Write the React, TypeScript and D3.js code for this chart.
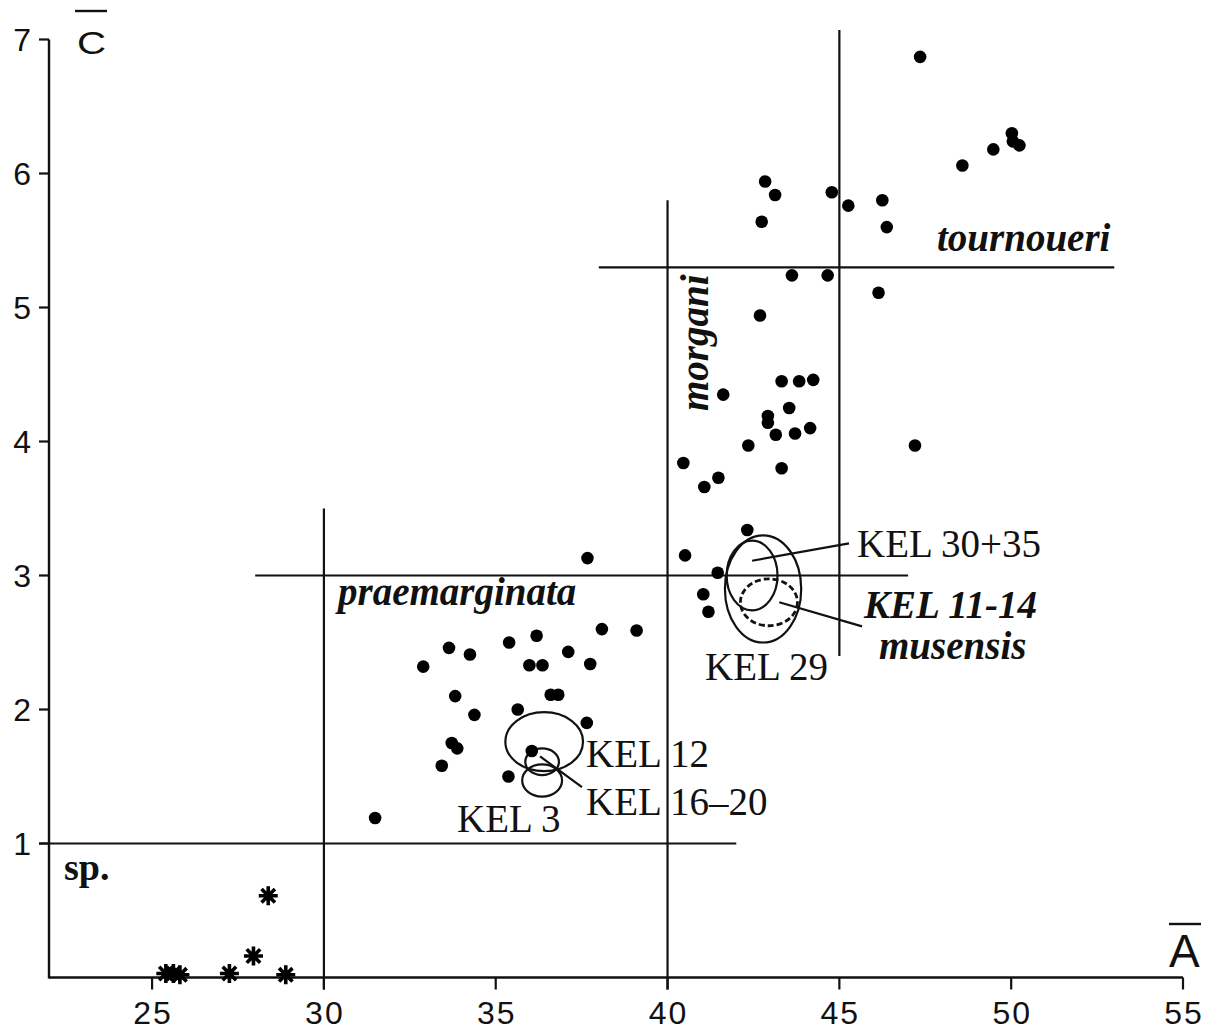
import React from "react";
import * as d3 from "d3";

const W = 1211;
const H = 1031;

const xTicks = [25, 30, 35, 40, 45, 50, 55];
const yTicks = [1, 2, 3, 4, 5, 6, 7];

// filled dots: A (x) and C (y)
const dotA = [
  47.35, 50.02, 50.05, 50.24, 49.48, 48.58, 42.84, 43.13, 44.78, 45.26, 46.25, 42.74, 46.38,
  43.62, 44.66, 46.14, 42.69, 41.62, 43.32, 43.83, 44.24, 43.54, 42.92, 42.92, 43.15, 43.71,
  44.15, 42.35, 40.46, 43.32, 41.48, 41.07, 47.2, 42.32, 40.51, 41.46, 41.04, 41.19, 37.67,
  38.09, 39.1, 36.19, 35.39, 33.64, 34.25, 37.11, 32.89, 35.98, 36.36, 37.75, 33.82, 36.6,
  36.82, 34.38, 35.64, 37.65, 33.72, 33.88, 36.05, 33.43, 35.37, 31.49,
];
const dotC = [
  6.87, 6.3, 6.24, 6.21, 6.18, 6.06, 5.94, 5.84, 5.86, 5.76, 5.8, 5.64, 5.6,
  5.24, 5.24, 5.11, 4.94, 4.35, 4.45, 4.45, 4.46, 4.25, 4.19, 4.14, 4.05, 4.06,
  4.1, 3.97, 3.84, 3.8, 3.73, 3.66, 3.97, 3.34, 3.15, 3.02, 2.86, 2.73, 3.13,
  2.6, 2.59, 2.55, 2.5, 2.46, 2.41, 2.43, 2.32, 2.33, 2.33, 2.34, 2.1, 2.11,
  2.11, 1.96, 2.0, 1.9, 1.75, 1.71, 1.69, 1.58, 1.5, 1.19,
];

// asterisks (sp.)
const starA = [25.4, 25.62, 25.81, 27.25, 27.95, 28.38, 28.89];
const starC = [0.03, 0.03, 0.02, 0.03, 0.16, 0.61, 0.02];

// boundary lines between taxa (data units)
const boundaryX1 = [22, 30, 28, 40, 38, 45];
const boundaryY1 = [1, 3.5, 3, 5.8, 5.3, 7.07];
const boundaryX2 = [42, 30, 47, 40, 53, 45];
const boundaryY2 = [1, 0, 3, 0, 5.3, 2.4];

// ellipses for samples
const ellName = ["KEL 29", "KEL 30+35", "KEL 11-14", "KEL 12", "KEL 16–20", "KEL 3"];
const ellCx = [42.78, 42.46, 42.95, 36.41, 36.35, 36.35];
const ellCy = [2.9, 3.0, 2.8, 1.76, 1.61, 1.47];
const ellRx = [1.11, 0.74, 0.83, 1.13, 0.49, 0.58];
const ellRy = [0.4, 0.26, 0.175, 0.22, 0.1, 0.12];
const ellDashed = [false, false, true, false, false, false];

// leader lines
const leadX1 = [42.46, 43.25, 36.29];
const leadY1 = [3.11, 2.8, 1.65];
const leadX2 = [45.28, 45.66, 37.51];
const leadY2 = [3.24, 2.62, 1.42];

export default function App() {
  const x = d3.scaleLinear().domain([22, 55]).range([49, 1183]);
  const y = d3.scaleLinear().domain([0, 7]).range([977.5, 39.5]);

  const sans = "'Liberation Sans', Arial, sans-serif";
  const serif = "'Liberation Serif', 'Times New Roman', serif";
  const stroke = "#111";

  const starPath = (cx: number, cy: number) => {
    const r = 9.5;
    const p = d3.path();
    for (let k = 0; k < 4; k++) {
      const a = (k * Math.PI) / 4;
      p.moveTo(cx - r * Math.cos(a), cy - r * Math.sin(a));
      p.lineTo(cx + r * Math.cos(a), cy + r * Math.sin(a));
    }
    return p.toString();
  };

  return (
    <svg
      width={W}
      height={H}
      style={{ position: "absolute", left: 0, top: 0, background: "#fff" }}
    >
      <rect x={0} y={0} width={W} height={H} fill="#fff" />
      {/* axes */}
      <line x1={x(22)} y1={y(7)} x2={x(22)} y2={y(0) + 1} stroke={stroke} strokeWidth={2.4} />
      <line x1={x(22)} y1={y(0)} x2={x(55)} y2={y(0)} stroke={stroke} strokeWidth={2.4} />
      {yTicks.map((t) => (
        <g key={"yt" + t}>
          <line x1={x(22) - 10} x2={x(22)} y1={y(t)} y2={y(t)} stroke={stroke} strokeWidth={2.2} />
          <text
            x={x(22) - 18}
            y={y(t) + 11}
            textAnchor="end"
            fontFamily={sans}
            fontSize={32}
            fill="#111"
          >
            {t}
          </text>
        </g>
      ))}
      {xTicks.map((t) => (
        <g key={"xt" + t}>
          <line x1={x(t)} x2={x(t)} y1={y(0)} y2={y(0) + 12} stroke={stroke} strokeWidth={2.2} />
          <text
            x={x(t) + 1}
            y={1024}
            textAnchor="middle"
            fontFamily={sans}
            fontSize={32}
            fill="#111"
            letterSpacing={2}
          >
            {t}
          </text>
        </g>
      ))}
      {/* axis titles with overbars */}
      <text
        transform="translate(77,54) scale(1.3,1)"
        fontFamily={sans}
        fontSize={31}
        fill="#111"
      >
        C
      </text>
      <line x1={75} x2={107} y1={11} y2={11} stroke={stroke} strokeWidth={2.4} />
      <text x={1169} y={967} fontFamily={sans} fontSize={46} fill="#111">
        A
      </text>
      <line x1={1169} x2={1201} y1={924} y2={924} stroke={stroke} strokeWidth={2.4} />

      {/* boundary lines */}
      {boundaryX1.map((v, i) => (
        <line
          key={"b" + i}
          x1={x(v) - (boundaryY1[i] === boundaryY2[i] && v === 22 ? 10 : 0)}
          y1={y(boundaryY1[i])}
          x2={x(boundaryX2[i])}
          y2={y(boundaryY2[i]) + (boundaryY2[i] === 0 ? 12 : 0)}
          stroke={stroke}
          strokeWidth={2.2}
        />
      ))}

      {/* ellipses */}
      {ellCx.map((cx, i) => (
        <ellipse
          key={"e" + i}
          cx={x(cx)}
          cy={y(ellCy[i])}
          rx={x(cx + ellRx[i]) - x(cx)}
          ry={y(0) - y(ellRy[i])}
          fill="none"
          stroke={stroke}
          strokeWidth={ellDashed[i] ? 2.8 : 2.2}
          strokeDasharray={ellDashed[i] ? "6 3" : undefined}
        />
      ))}
      {leadX1.map((v, i) => (
        <line
          key={"l" + i}
          x1={x(v)}
          y1={y(leadY1[i])}
          x2={x(leadX2[i])}
          y2={y(leadY2[i])}
          stroke={stroke}
          strokeWidth={2.2}
        />
      ))}

      {/* dots */}
      {dotA.map((a, i) => (
        <circle key={"d" + i} cx={x(a)} cy={y(dotC[i])} r={6.3} fill="#000" />
      ))}
      {starA.map((a, i) => (
        <path key={"s" + i} d={starPath(x(a), y(starC[i]))} stroke="#000" strokeWidth={3.6} />
      ))}

      {/* taxon labels */}
      <g fontFamily={serif} fontWeight="bold" fontStyle="italic" fill="#111" fontSize={39}>
        <text x={937} y={251}>tournoueri</text>
        <text x={338} y={605}>praemarginata</text>
        <text transform="translate(708,411) rotate(-90)">morgani</text>
        <text x={864} y={618}>KEL 11-14</text>
        <text x={879} y={659}>musensis</text>
      </g>
      <text x={64} y={880} fontFamily={serif} fontWeight="bold" fontSize={38} fill="#111">
        sp.
      </text>
      <g fontFamily={serif} fill="#111" fontSize={39}>
        <text x={857} y={557}>KEL 30+35</text>
        <text x={705} y={680}>KEL 29</text>
        <text x={586} y={767}>KEL 12</text>
        <text x={586} y={815}>KEL 16–20</text>
        <text x={457} y={832}>KEL 3</text>
      </g>
    </svg>
  );
}
